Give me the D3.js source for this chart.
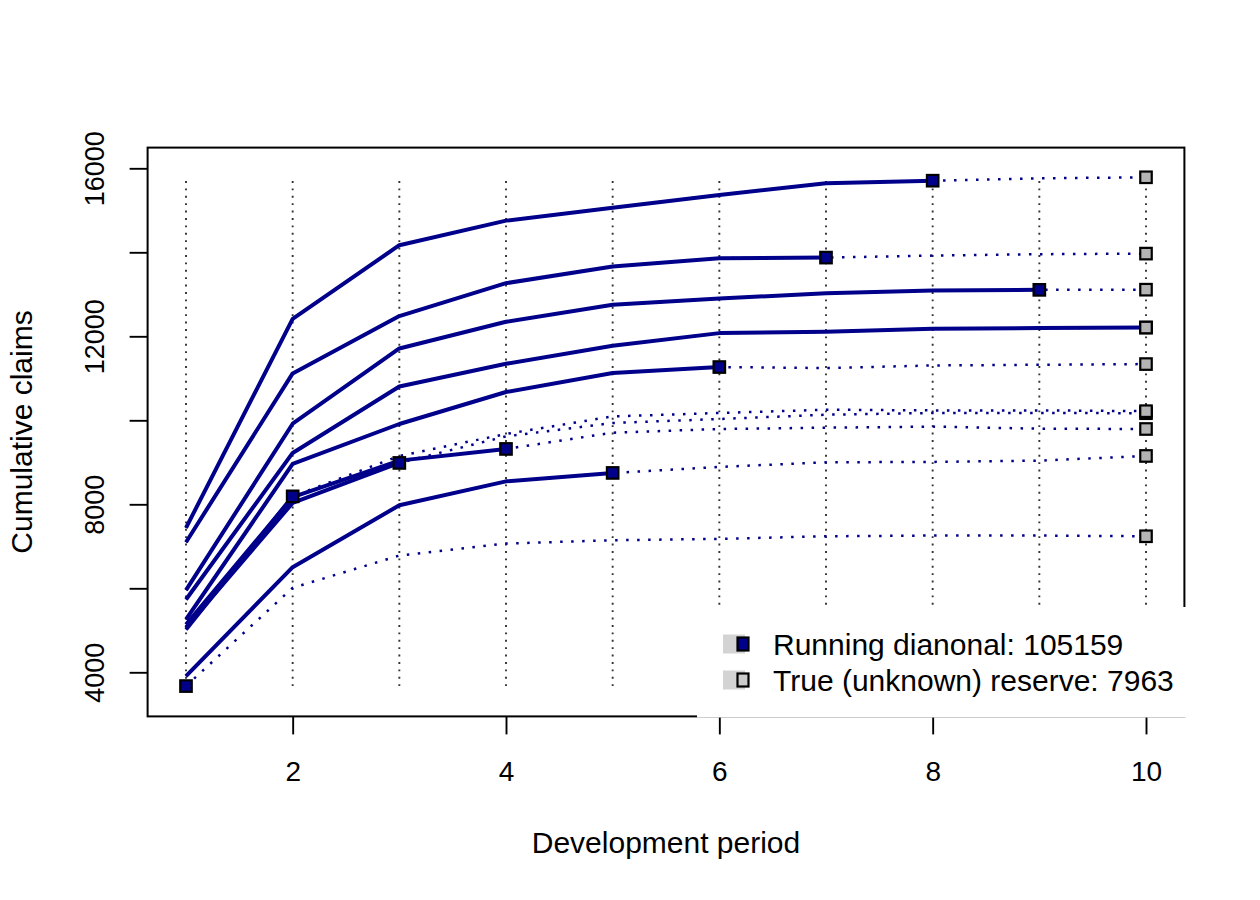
<!DOCTYPE html>
<html>
<head>
<meta charset="utf-8">
<script src="https://cdn.jsdelivr.net/npm/d3@7"></script>
<style>
  body { margin: 0; background: #fff; }
  text { font-family: "Liberation Sans", Arial, Helvetica, sans-serif; fill: #000; }
</style>
</head>
<body>
<div id="chart"></div>
<script>
// development periods on the x axis
const periods = [1, 2, 3, 4, 5, 6, 7, 8, 9, 10];

// observed cumulative claims per origin year (upper triangle)
const observed = [
    [5734, 9223, 10806, 11346, 11774, 12076, 12107, 12179, 12195, 12209],
    [5955, 9919, 11710, 12345, 12749, 12899, 13027, 13089, 13106],
    [7439, 12416, 14169, 14754, 15063, 15365, 15643, 15705],
    [7097, 11116, 12481, 13265, 13660, 13860, 13874],
    [5259, 8961, 9912, 10673, 11125, 11268],
    [3910, 6502, 7977, 8547, 8747],
    [5140, 8170, 9040, 9318],
    [5067, 8034, 8985],
    [5020, 8189],
    [3672]
];

// true (unknown) future development per origin year
const unobserved = [
    [],
    [13110],
    [15762, 15786],
    [13922, 13955, 13969],
    [11244, 11306, 11322, 11339],
    [8890, 9000, 9009, 9040, 9151],
    [9705, 9793, 9824, 9850, 9800, 9793],
    [9617, 9936, 10031, 10133, 10174, 10174, 10169],
    [9151, 9675, 10093, 10174, 10252, 10236, 10236, 10217],
    [6012, 6780, 7066, 7144, 7177, 7239, 7256, 7256, 7239]
];

const xTicks = [2, 4, 6, 8, 10];
const yTicks = [4000, 6000, 8000, 10000, 12000, 14000, 16000];
const yTickLabels = [4000, 8000, 12000, 16000];
const legendLabels = ['Running dianonal: 105159', 'True (unknown) reserve: 7963'];
const xTitle = 'Development period';
const yTitle = 'Cumulative claims';

const blue = '#00008b';

var W = 1260, H = 900;
var margin = {top: 147.6, right: 75.6, bottom: 183.6, left: 147.6},
    width = W - margin.left - margin.right,
    height = H - margin.top - margin.bottom;

const svg = d3.select('#chart')
    .append('svg')
    .attr('width', W)
    .attr('height', H);

const g = svg.append('g')
    .attr('transform', 'translate(' + margin.left + ',' + margin.top + ')');

const xScale = d3.scaleLinear()
    .domain([0.64, 10.36])
    .range([0, width]);

const yScale = d3.scaleLinear()
    .domain([2950, 16493])
    .range([height, 0]);

// full true rows = observed + unobserved
const fullRows = observed.map((r, i) => r.concat(unobserved[i]));
const allVals = fullRows.flat();
const obsVals = observed.flat();

const line = d3.line()
    .x((d, i) => xScale(periods[i]))
    .y(d => yScale(d));

// vertical dotted guides
g.selectAll('.guide')
    .data(periods)
    .join('line')
    .attr('class', 'guide')
    .attr('x1', d => xScale(d))
    .attr('x2', d => xScale(d))
    .attr('y1', yScale(d3.min(obsVals)))
    .attr('y2', yScale(d3.max(allVals)))
    .attr('stroke', '#333')
    .attr('stroke-width', 1.9)
    .attr('stroke-dasharray', '1.9 5.5');

// true development, dotted
g.selectAll('.truth')
    .data(fullRows)
    .join('path')
    .attr('class', 'truth')
    .attr('d', line)
    .attr('fill', 'none')
    .attr('stroke', blue)
    .attr('stroke-width', 2.5)
    .attr('stroke-dasharray', '2.5 8.5');

// observed development, solid
g.selectAll('.obs')
    .data(observed.filter(r => r.length > 1))
    .join('path')
    .attr('class', 'obs')
    .attr('d', line)
    .attr('fill', 'none')
    .attr('stroke', blue)
    .attr('stroke-width', 4)
    .attr('stroke-linejoin', 'round');

const sq = 11.5;

// running diagonal
g.selectAll('.diag')
    .data(observed)
    .join('rect')
    .attr('class', 'diag')
    .attr('x', d => xScale(periods[d.length - 1]) - sq / 2)
    .attr('y', d => yScale(d[d.length - 1]) - sq / 2)
    .attr('width', sq)
    .attr('height', sq)
    .attr('fill', blue)
    .attr('stroke', '#000')
    .attr('stroke-width', 2.2);

// true ultimates
g.selectAll('.ult')
    .data(fullRows)
    .join('rect')
    .attr('class', 'ult')
    .attr('x', d => xScale(periods[d.length - 1]) - sq / 2)
    .attr('y', d => yScale(d[d.length - 1]) - sq / 2)
    .attr('width', sq)
    .attr('height', sq)
    .attr('fill', '#b4b4b4')
    .attr('stroke', '#000')
    .attr('stroke-width', 2.2);

// axes
const xAxis = d3.axisBottom(xScale)
    .tickValues(xTicks)
    .tickSize(18)
    .tickPadding(0)
    .tickFormat(d3.format('d'));

const gx = g.append('g')
    .attr('transform', 'translate(0,' + height + ')')
    .call(xAxis);
gx.select('.domain').remove();
gx.selectAll('line').attr('stroke', '#000').attr('stroke-width', 1.9);
gx.selectAll('text')
    .attr('y', 65)
    .attr('dy', null)
    .style('font-size', '28px')
    .style('font-family', '"Liberation Sans", Arial, sans-serif');

const yAxis = d3.axisLeft(yScale)
    .tickValues(yTicks)
    .tickSize(18)
    .tickFormat(d => yTickLabels.includes(d) ? d : '');

const gy = g.append('g').call(yAxis);
gy.select('.domain').remove();
gy.selectAll('line').attr('stroke', '#000').attr('stroke-width', 1.9);
gy.selectAll('text')
    .attr('x', null)
    .attr('dy', null)
    .attr('transform', 'translate(' + (104 - margin.left) + ',0) rotate(-90)')
    .attr('text-anchor', 'middle')
    .style('font-size', '27px')
    .style('font-family', '"Liberation Sans", Arial, sans-serif');

// frame
g.append('rect')
    .attr('width', width)
    .attr('height', height)
    .attr('fill', 'none')
    .attr('stroke', '#000')
    .attr('stroke-width', 2);

// axis titles
svg.append('text')
    .attr('x', margin.left + width / 2)
    .attr('y', 852.5)
    .attr('text-anchor', 'middle')
    .style('font-size', '30px')
    .text(xTitle);

svg.append('text')
    .attr('transform', 'translate(32,' + (margin.top + height / 2) + ') rotate(-90)')
    .attr('text-anchor', 'middle')
    .style('font-size', '30px')
    .text(yTitle);

// legend (white box over the bottom right corner)
const legend = svg.append('g');
legend.append('rect')
    .attr('x', 697)
    .attr('y', 607)
    .attr('width', 492)
    .attr('height', 110.5)
    .attr('fill', '#fff');

const legendFills = [blue, '#cccccc'];
const rowsY = [644, 680];

legend.selectAll('.lbox')
    .data(legendLabels)
    .join('rect')
    .attr('x', 723)
    .attr('y', (d, i) => rowsY[i] - 9.5)
    .attr('width', 22)
    .attr('height', 19)
    .attr('fill', '#d3d3d3');

legend.selectAll('.lpt')
    .data(legendLabels)
    .join('rect')
    .attr('x', 743 - 5.5)
    .attr('y', (d, i) => rowsY[i] - 6.5)
    .attr('width', 11)
    .attr('height', 13)
    .attr('fill', (d, i) => legendFills[i])
    .attr('stroke', '#000')
    .attr('stroke-width', 2.2);

legend.selectAll('.ltxt')
    .data(legendLabels)
    .join('text')
    .attr('x', 773)
    .attr('y', (d, i) => rowsY[i] + 11)
    .style('font-size', '30px')
    .text(d => d);
</script>
</body>
</html>
